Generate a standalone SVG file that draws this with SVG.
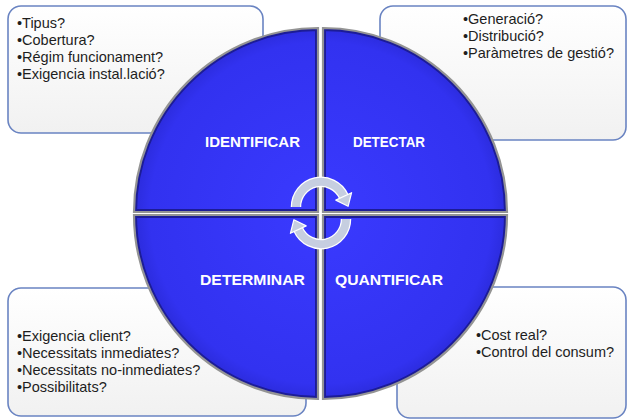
<svg xmlns="http://www.w3.org/2000/svg" width="628" height="419" viewBox="0 0 628 419">
<style>
.box{fill:url(#boxg);stroke:#6a84c2;stroke-width:1.6}
.body{font-family:"Liberation Sans",Arial,sans-serif;font-size:14.5px;fill:#1e1e1e}
.lbl{font-family:"Liberation Sans",Arial,sans-serif;font-size:15.5px;font-weight:bold;fill:#ffffff;text-anchor:middle}
.q{fill:url(#qg)}
.rim{fill:none;stroke:#1c1c96;stroke-width:6}
.edge{fill:none;stroke:#949494;stroke-width:2.2}
.arcw{fill:none;stroke:#ffffff;stroke-width:10.5}
.arcf{fill:none;stroke:#c6cee0;stroke-width:8}
.head{fill:#c6cee0;stroke:#ffffff;stroke-width:1.2;stroke-linejoin:round}
</style>
<defs>
<linearGradient id="boxg" x1="0" y1="0" x2="0" y2="1">
<stop offset="0" stop-color="#ffffff"/>
<stop offset="1" stop-color="#f1f1f1"/>
</linearGradient>
<radialGradient id="qg" cx="321" cy="213" r="190" gradientUnits="userSpaceOnUse">
<stop offset="0" stop-color="#3a3aff"/>
<stop offset="0.9" stop-color="#3232f0"/>
<stop offset="1" stop-color="#2a2ad8"/>
</radialGradient>
<path id="pTL" d="M318,212 L134,212 A184,184 0 0 1 318,28 Z"/>
<path id="pTR" d="M323,212 L323,28 A184,184 0 0 1 507,212 Z"/>
<path id="pBL" d="M318,215 L318,399 A184,184 0 0 1 134,215 Z"/>
<path id="pBR" d="M323,215 L507,215 A184,184 0 0 1 323,399 Z"/>
<clipPath id="cTL"><use href="#pTL"/></clipPath>
<clipPath id="cTR"><use href="#pTR"/></clipPath>
<clipPath id="cBL"><use href="#pBL"/></clipPath>
<clipPath id="cBR"><use href="#pBR"/></clipPath>
</defs>
<rect width="628" height="419" fill="#ffffff"/>

<g id="box-identificar">
<rect class="box" x="8" y="6" width="255" height="127" rx="13"/>
<text class="body" x="17" y="27.5">•Tipus?</text>
<text class="body" x="17" y="45">•Cobertura?</text>
<text class="body" x="17" y="62">•Régim funcionament?</text>
<text class="body" x="17" y="79">•Exigencia instal.lació?</text>
</g>
<g id="box-detectar">
<rect class="box" x="380" y="6" width="246" height="134" rx="13"/>
<text class="body" x="463" y="23.5">•Generació?</text>
<text class="body" x="463" y="40.5">•Distribució?</text>
<text class="body" x="463" y="57.5">•Paràmetres de gestió?</text>
</g>
<g id="box-determinar">
<rect class="box" x="8" y="288" width="298" height="128" rx="13"/>
<text class="body" x="17" y="341">•Exigencia client?</text>
<text class="body" x="17" y="358">•Necessitats inmediates?</text>
<text class="body" x="17" y="375">•Necessitats no-inmediates?</text>
<text class="body" x="17" y="392">•Possibilitats?</text>
</g>
<g id="box-quantificar">
<rect class="box" x="397" y="287" width="229" height="131" rx="13"/>
<text class="body" x="476" y="340">•Cost real?</text>
<text class="body" x="476" y="357">•Control del consum?</text>
</g>

<g id="identificar">
<use href="#pTL" class="q"/>
<use href="#pTL" class="rim" clip-path="url(#cTL)"/>
<use href="#pTL" class="edge"/>
<text class="lbl" x="252.5" y="147" textLength="95" lengthAdjust="spacingAndGlyphs">IDENTIFICAR</text>
</g>
<g id="detectar">
<use href="#pTR" class="q"/>
<use href="#pTR" class="rim" clip-path="url(#cTR)"/>
<use href="#pTR" class="edge"/>
<text class="lbl" x="389" y="147" textLength="72" lengthAdjust="spacingAndGlyphs">DETECTAR</text>
</g>
<g id="determinar">
<use href="#pBL" class="q"/>
<use href="#pBL" class="rim" clip-path="url(#cBL)"/>
<use href="#pBL" class="edge"/>
<text class="lbl" x="252.5" y="285" textLength="105" lengthAdjust="spacingAndGlyphs">DETERMINAR</text>
</g>
<g id="quantificar">
<use href="#pBR" class="q"/>
<use href="#pBR" class="rim" clip-path="url(#cBR)"/>
<use href="#pBR" class="edge"/>
<text class="lbl" x="389" y="285" textLength="108" lengthAdjust="spacingAndGlyphs">QUANTIFICAR</text>
</g>

<g id="connectors">
<path class="arcw" d="M296,207 A25,25 0 0 1 343.7,196.4"/>
<path class="arcf" d="M296,207 A25,25 0 0 1 343.7,196.4"/>
<polygon class="head" points="351.6,192.7 335.8,200.1 348.1,206.3"/>
<path class="arcw" d="M346,219 A25,25 0 0 1 298.3,229.6"/>
<path class="arcf" d="M346,219 A25,25 0 0 1 298.3,229.6"/>
<polygon class="head" points="290.4,233.3 306.2,225.9 293.9,219.7"/>
</g>
</svg>
